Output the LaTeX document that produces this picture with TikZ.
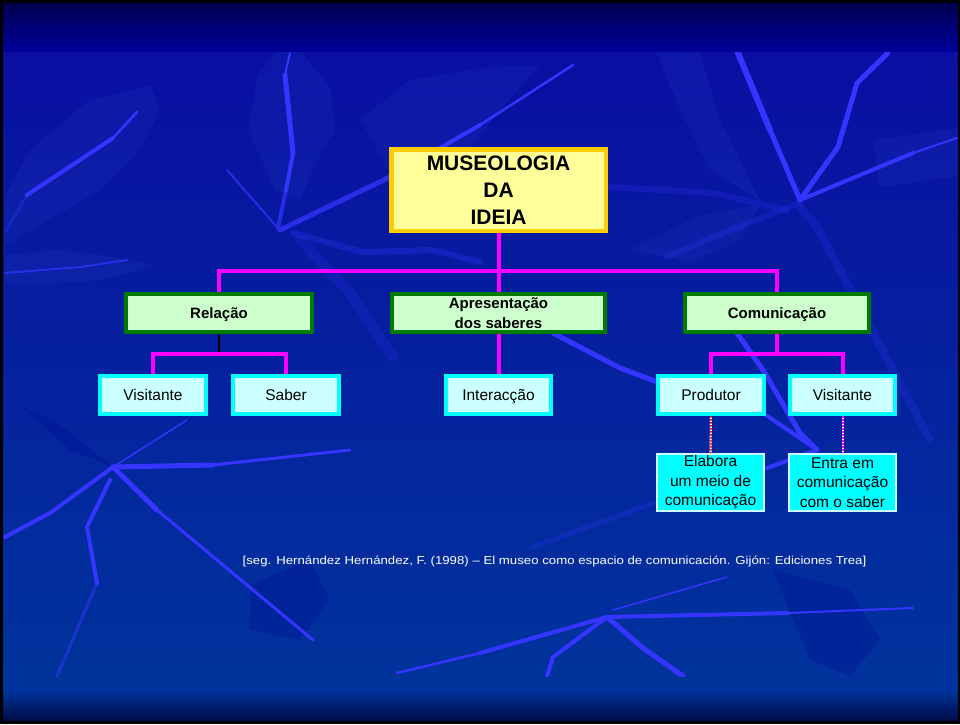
\documentclass[tikz,border=0pt]{standalone}
\usepackage{fontspec}
\setmainfont{Liberation Sans}
\usepackage{graphicx}

\definecolor{topdark}{HTML}{000050}
\definecolor{topband}{HTML}{00009C}
\definecolor{bgtop}{HTML}{0A0FA2}
\definecolor{bgbot}{HTML}{00349C}
\definecolor{botdark}{HTML}{000C48}
\definecolor{streakc}{HTML}{3535FF}
\definecolor{leafc}{HTML}{2A48D0}
\definecolor{darkleaf}{HTML}{000A90}
\definecolor{goldc}{HTML}{FFCC00}
\definecolor{yellowc}{HTML}{FFFF99}
\definecolor{greenc}{HTML}{007A00}
\definecolor{mintc}{HTML}{CCFFCC}
\definecolor{cyanc}{HTML}{00FFFF}
\definecolor{icec}{HTML}{CCFFFF}
\definecolor{pinkc}{HTML}{FF00FF}

\tikzset{
  streak/.style={draw=streakc, line cap=round, line join=round},
  faint/.style={streak, draw opacity=.3},
  leafpatch/.style={fill=leafc, fill opacity=.15},
  darkpatch/.style={fill=darkleaf, fill opacity=.3},
  oneline/.style={text height=11.8pt, text depth=1pt},
  mainbox/.style={draw=goldc, fill=yellowc, line width=4.5pt, align=center,
    inner sep=0pt, minimum width=214.5pt, minimum height=81.5pt,
    font=\bfseries\fontsize{21}{27}\selectfont},
  groupbox/.style={draw=greenc, fill=mintc, line width=4pt, align=center,
    inner sep=0pt, minimum height=38pt,
    font=\bfseries\fontsize{15}{20}\selectfont},
  itembox/.style={draw=cyanc, fill=icec, line width=4pt, align=center,
    inner sep=0pt, minimum width=106pt, minimum height=38pt, oneline,
    font=\fontsize{15.5}{20}\selectfont},
  notebox/.style={draw=icec, fill=cyanc, line width=2pt, align=center,
    inner sep=0pt, minimum width=107pt, minimum height=57pt,
    font=\fontsize{15.5}{19.5}\selectfont},
  conn/.style={draw=pinkc, line width=4pt},
  stem/.style={draw=black, line width=2pt},
  dotlink/.style={line width=2pt, dash pattern=on 1.5pt off 1.5pt},
  cite/.style={text=white, inner sep=0pt, font=\fontsize{11.5}{14}\selectfont}
}

\begin{document}
\begin{tikzpicture}[x=1pt, y=-1pt]
\useasboundingbox (0,0) rectangle (960,724);

% frame and background bands
\fill[black] (0,0) rectangle (960,724);
\shade[top color=topdark, bottom color=topband] (3,3) rectangle (958,52);
\shade[top color=bgtop, bottom color=bgbot] (3,52) rectangle (958,690);
\shade[top color=bgbot, bottom color=botdark] (3,690) rectangle (958,720);

% leaf texture
\begin{scope}
\clip (3,52) rectangle (958,676);
\fill[leafpatch] (277,50) -- (293,42) -- (330,87) -- (335,130) -- (312,170)
  -- (300,200) -- (275,190) -- (248,130) -- (258,75) -- cycle;
\fill[leafpatch] (5,195) -- (30,150) -- (90,100) -- (150,85) -- (160,110)
  -- (140,150) -- (100,190) -- (40,225) -- (5,245) -- cycle;
\fill[leafpatch] (5,255) -- (60,250) -- (100,255) -- (155,265) -- (100,280)
  -- (40,285) -- (5,285) -- cycle;
\fill[leafpatch] (360,120) -- (410,80) -- (480,68) -- (540,65) -- (500,110)
  -- (470,150) -- (400,190) -- cycle;
\fill[leafpatch] (657,53) -- (700,53) -- (720,120) -- (760,200) -- (710,170)
  -- (680,110) -- cycle;
\fill[leafpatch] (873,140) -- (958,128) -- (958,176) -- (880,187) -- cycle;
\fill[leafpatch] (630,250) -- (700,215) -- (760,205) -- (740,240) -- (690,262) -- cycle;
\fill[darkpatch] (773,570) -- (850,590) -- (880,640) -- (850,676) -- (810,660) -- cycle;
\fill[darkpatch] (20,405) -- (60,425) -- (113,467) -- (70,450) -- cycle;
\fill[darkpatch] (250,585) -- (310,560) -- (330,600) -- (300,640) -- (250,630) -- cycle;

% veins, upper left
\draw[faint, line width=3pt] (5,232) -- (27,195);
\draw[streak, line width=4pt] (27,195) -- (113,138);
\draw[streak, line width=2.5pt] (113,138) -- (137,112);
\draw[streak, line width=2pt, draw opacity=.7] (5,273) -- (80,267) -- (127,260);
\draw[streak, line width=2pt] (290,53) -- (285,75);
\draw[streak, line width=5pt] (285,75) -- (293,153);
\draw[streak, line width=4pt] (293,153) -- (286,190);
\draw[streak, line width=4pt, draw opacity=.7] (286,190) -- (278,228);
\draw[streak, line width=2pt, draw opacity=.7] (227,170) -- (277,227);
\draw[streak, line width=5pt, draw opacity=.75] (280,230) -- (390,177);
\draw[streak, line width=4pt] (390,177) -- (480,125);
\draw[streak, line width=2.5pt] (480,125) -- (573,65);
\draw[faint, line width=6pt] (293,233) -- (363,252) -- (433,250) -- (480,262);
\draw[faint, line width=10pt, draw opacity=.18] (300,240) -- (350,293) -- (393,357);

% veins, upper right
\draw[streak, line width=6pt] (738,53) -- (770,130);
\draw[streak, line width=5pt] (770,130) -- (800,200);
\draw[streak, line width=5pt] (888,53) -- (857,83) -- (838,147) -- (800,200);
\draw[streak, line width=4pt] (800,200) -- (913,153);
\draw[streak, line width=2pt] (913,153) -- (957,138);
\draw[faint, line width=8pt, draw opacity=.2] (800,207) -- (817,227) -- (893,370) -- (930,440);
\draw[faint, line width=6pt, draw opacity=.22] (800,203) -- (713,237) -- (667,257);
\draw[faint, line width=6pt, draw opacity=.22] (610,187) -- (713,193) -- (787,210);

% veins, middle right
\draw[streak, line width=5pt] (553,333) -- (620,368) -- (660,383);
\draw[streak, line width=5pt] (737,333) -- (763,370) -- (800,433) -- (817,450);
\draw[streak, line width=4pt] (763,413) -- (813,447);
\draw[streak, line width=4pt] (767,468) -- (817,450);
\draw[faint, line width=5pt, draw opacity=.25] (533,547) -- (653,503);

% veins, lower middle
\draw[streak, line width=2.5pt] (397,673) -- (480,653);
\draw[streak, line width=4pt] (480,653) -- (607,617);
\draw[streak, line width=4pt] (607,617) -- (787,613);
\draw[streak, line width=2pt] (787,613) -- (913,608);
\draw[streak, line width=4pt] (607,617) -- (553,657) -- (547,676);
\draw[streak, line width=5pt] (607,617) -- (643,648) -- (683,676);
\draw[streak, line width=1.5pt] (613,610) -- (727,577);

% veins, lower left
\draw[streak, line width=5pt] (113,467) -- (213,465);
\draw[streak, line width=3pt] (213,465) -- (350,450);
\draw[streak, line width=1.5pt] (113,467) -- (187,420);
\draw[streak, line width=5pt] (113,467) -- (157,510);
\draw[streak, line width=3pt] (157,510) -- (313,640);
\draw[streak, line width=4pt] (113,467) -- (50,513) -- (5,537);
\draw[streak, line width=4pt] (110,480) -- (87,527) -- (97,583);
\draw[streak, line width=3pt, draw opacity=.5] (97,583) -- (57,676);
\end{scope}

% boxes
\node[mainbox] (top) at (498.5,190) {MUSEOLOGIA\\DA\\IDEIA};

\node[groupbox, oneline, minimum width=186pt] (rel) at (219,313) {Relação};
\node[groupbox, minimum width=213pt] (apr) at (498.5,313) {Apresentação\\dos saberes};
\node[groupbox, oneline, minimum width=184pt] (com) at (777,313) {Comunicação};

\node[itembox] (vis1) at (153,395) {Visitante};
\node[itembox] (saber) at (286,395) {Saber};
\node[itembox, minimum width=105pt] (inter) at (498.5,395) {Interacção};
\node[itembox] (prod) at (711,395) {Produtor};
\node[itembox, minimum width=105pt] (vis2) at (842.5,395) {Visitante};

\node[notebox] (elab) at (710.5,482.5) {Elabora\\um meio de\\comunicação};
\node[notebox] (entra) at (842.5,482.5) {Entra em\\comunicação\\com o saber};

% connectors
\coordinate (busA) at (498.5,271);
\coordinate (busR) at (219,354);
\coordinate (busC) at (777,354);

\draw[conn] (top.south) -- (apr.north);
\draw[conn] (rel.north) |- (busA) -| (com.north);

\draw[stem] (rel.south) -- (busR);
\draw[conn] (vis1.north) |- (busR) -| (saber.north);

\draw[conn] (apr.south) -- (inter.north);

\draw[conn] (com.south) -- (busC);
\draw[conn] (prod.north) |- (busC) -| (vis2.north);

\draw[line width=2pt, white] (prod.south) -- (elab.north);
\draw[dotlink, red] (prod.south) -- (elab.north);
\draw[line width=2pt, white] (vis2.south) -- (entra.north);
\draw[dotlink, pinkc] (vis2.south) -- (entra.north);

% reference line
\node[cite] (source) at (554.5,561) {\scalebox{1.15}[1]{[seg. Hernández Hernández, F. (1998) – El museo como espacio de comunicación. Gijón: Ediciones Trea]}};
\end{tikzpicture}
\end{document}
